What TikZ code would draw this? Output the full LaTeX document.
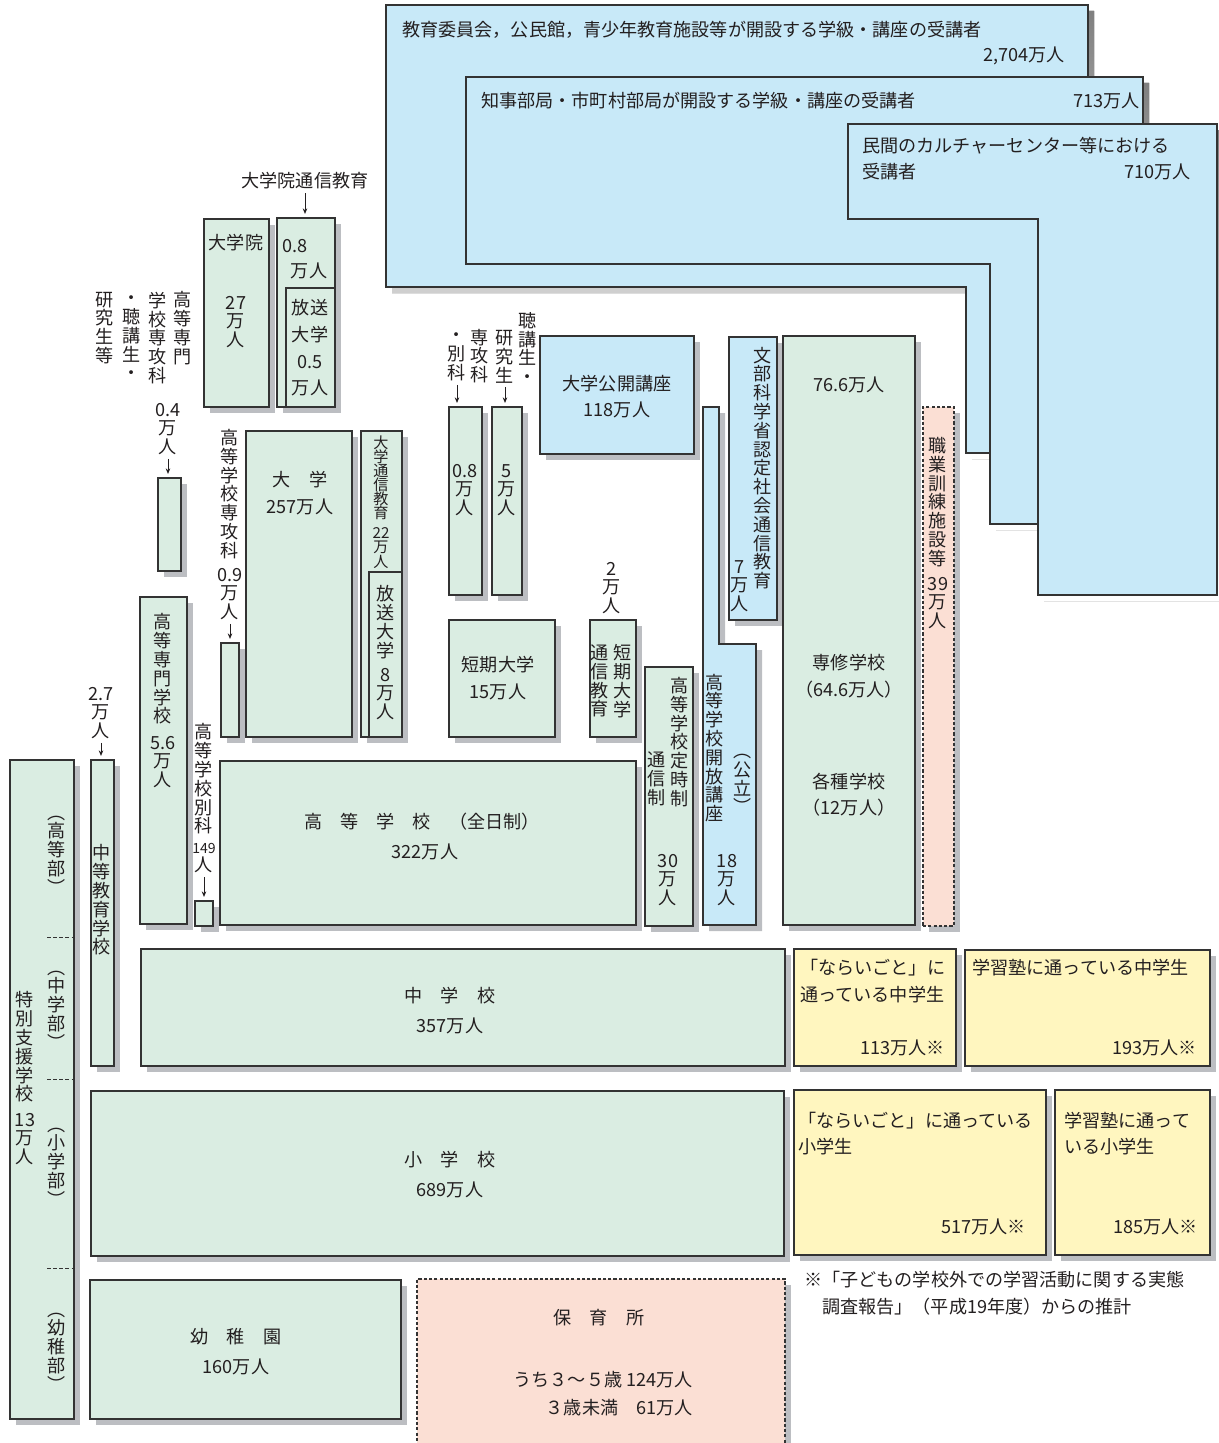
\documentclass[tikz,border=0pt]{standalone}
\usepackage{fontspec}
\newfontfamily\jp{Noto Sans CJK JP}
\usetikzlibrary{positioning, fit, shadows, arrows.meta}

\definecolor{gfill}{RGB}{218,237,226}
\definecolor{bfill}{RGB}{200,233,248}
\definecolor{yfill}{RGB}{255,246,191}
\definecolor{pfill}{RGB}{251,223,212}
\definecolor{shade}{RGB}{188,190,194}
\definecolor{edge}{RGB}{51,51,51}
\definecolor{ink}{RGB}{35,31,32}

\begin{document}
\begin{tikzpicture}[x=0.02cm, y=-0.02cm, line join=miter,
	every node/.style={font=\jp\fontsize{10.3}{10.7}\selectfont, text=ink, inner sep=0pt},
	box/.style={draw=edge, line width=0.6pt, inner sep=0pt,
		drop shadow={shadow xshift=0.12cm, shadow yshift=-0.12cm, fill=shade, opacity=1}},
	gbox/.style={box, fill=gfill},
	bbox/.style={box, fill=bfill},
	ybox/.style={box, fill=yfill},
	pbox/.style={box, fill=pfill, dash pattern=on 1.8pt off 1.2pt},
	inbox/.style={draw=edge, line width=0.6pt, fill=gfill, inner sep=0pt},
	vt/.style={align=center},
	vtwide/.style={align=center, font=\jp\fontsize{10.3}{15.2}\selectfont},
	vtsmall/.style={align=center, font=\jp\fontsize{8.6}{8}\selectfont},
	arr/.style={-{Stealth[length=3.2pt, width=2.6pt]}, line width=0.5pt, draw=ink, shorten <=2pt, shorten >=2pt},
	sep/.style={draw=edge, line width=0.5pt, dash pattern=on 2pt off 1.5pt}
]
	\useasboundingbox (0,0) rectangle (1219,1443);

	% the three sheets at the top right, shadows first
	\begin{scope}[shift={(6,6)}]
		\fill[shade] (386,5) -- (1088,5) -- (1088,453) -- (966,453) -- (966,287) -- (386,287) -- cycle;
		\fill[shade] (466,77) -- (1143,77) -- (1143,524) -- (990,524) -- (990,264) -- (466,264) -- cycle;
		\fill[shade] (848,124) -- (1217,124) -- (1217,595) -- (1038,595) -- (1038,219) -- (848,219) -- cycle;
	\end{scope}
	\filldraw[fill=bfill, draw=edge, line width=0.6pt] (386,5) -- (1088,5) -- (1088,453) -- (966,453) -- (966,287) -- (386,287) -- cycle;
	\filldraw[fill=bfill, draw=edge, line width=0.6pt] (466,77) -- (1143,77) -- (1143,524) -- (990,524) -- (990,264) -- (466,264) -- cycle;
	\filldraw[fill=bfill, draw=edge, line width=0.6pt] (848,124) -- (1217,124) -- (1217,595) -- (1038,595) -- (1038,219) -- (848,219) -- cycle;
	\node[anchor=west] (s1) at (402,30) {教育委員会，公民館，青少年教育施設等が開設する学級・講座の受講者};
	\node[anchor=east] (s1n) at (1065,56) {2,704万人};
	\node[anchor=west] (s2) at (481,101) {知事部局・市町村部局が開設する学級・講座の受講者};
	\node[anchor=east] (s2n) at (1140,101) {713万人};
	\node[anchor=west] (s3) at (862,146) {民間のカルチャーセンター等における};
	\node[anchor=west] (s3b) at (862,172) {受講者};
	\node[anchor=east] (s3n) at (1191,172) {710万人};

	% graduate schools
	\node[gbox, fit={(204,219) (269,407)}] (inA) {};
	\node (inAt) at (236,243) {大学院};
	\node[vt] (inAn) at (236,322) {27\\万\\人};
	\node[gbox, fit={(277,218) (335,407)}] (inT) {};
	\node[inbox, fit={(286,288) (335,407)}] (inH) {};
	\node (inTn) at (295,246) {0.8};
	\node (inTu) at (309,271) {万人};
	\node[vtwide] (inHt) at (310,348) {放送\\大学\\0.5\\万人};
	\node (inTl) at (305,181) {大学院通信教育};

	% kosen advanced course
	\node[vt] (kl1) at (183,328) {高\\等\\専\\門};
	\node[vt] (kl2) at (158,338) {学\\校\\専\\攻\\科};
	\node[vt] (kl3) at (132,338) {・\\聴\\講\\生\\・};
	\node[vt] (kl4) at (105,328) {研\\究\\生\\等};
	\node[vt] (kSn) at (168,429) {0.4\\万\\人};
	\node[gbox, fit={(158,478) (181,571)}] (kS) {};

	% kosen, secondary, special needs
	\node[gbox, fit={(140,597) (187,924)}] (kosen) {};
	\node[vt] (kosent) at (163,669) {高\\等\\専\\門\\学\\校};
	\node[vt] (kosenn) at (163,762) {5.6\\万\\人};
	\node[vt] (chutol) at (101,713) {2.7\\万\\人};
	\node[gbox, fit={(91,760) (114,1066)}] (chuto) {};
	\node[vt] (chutot) at (102,900) {中\\等\\教\\育\\学\\校};
	\node[gbox, fit={(10,760) (74,1419)}] (toku) {};
	\node[vt] (tokut) at (25,1047) {特\\別\\支\\援\\学\\校};
	\node[vt] (tokun) at (25,1139) {13\\万\\人};
	\node[vt] (tokuA) at (57,855) {︵\\高\\等\\部\\︶};
	\node[vt] (tokuB) at (57,1010) {︵\\中\\学\\部\\︶};
	\node[vt] (tokuC) at (57,1167) {︵\\小\\学\\部\\︶};
	\node[vt] (tokuD) at (57,1352) {︵\\幼\\稚\\部\\︶};
	\draw[sep] (47,937) -- (74,937);
	\draw[sep] (47,1079) -- (74,1079);
	\draw[sep] (47,1268) -- (74,1268);

	% university
	\node[vt] (ksl) at (230,494) {高\\等\\学\\校\\専\\攻\\科};
	\node[vt] (ksn) at (230,594) {0.9\\万\\人};
	\node[gbox, fit={(221,643) (239,737)}] (koSenko) {};
	\node[gbox, fit={(246,431) (352,737)}] (dai) {};
	\node (dait) at (300,480) {大　学};
	\node (dain) at (300,507) {257万人};
	\node[gbox, fit={(361,431) (402,737)}] (daiT) {};
	\node[inbox, fit={(369,572) (402,737)}] (daiH) {};
	\node[vtsmall] (daiTt) at (381,478) {大\\学\\通\\信\\教\\育};
	\node[vtsmall] (daiTn) at (381,548) {22\\万\\人};
	\node[vt] (daiHt) at (386,622) {放\\送\\大\\学};
	\node[vt] (daiHn) at (386,694) {8\\万\\人};

	% high school
	\node[vt] (kbl) at (204,779) {高\\等\\学\\校\\別\\科};
	\node[vt] (kbn) at (204,858) {{\fontsize{8}{8}\selectfont 149}\\人};
	\node[gbox, fit={(195,901) (213,926)}] (koBekka) {};
	\node[gbox, fit={(220,761) (636,925)}] (koko) {};
	\node (kokot) at (422,822) {高　等　学　校　（全日制）};
	\node (kokon) at (425,852) {322万人};

	% junior college
	\node[vt] (tl1) at (480,356) {専\\攻\\科};
	\node[vt] (tl2) at (457,357) {・\\別\\科};
	\node[vt] (tl3) at (505,357) {研\\究\\生};
	\node[vt] (tl4) at (528,348) {聴\\講\\生\\・};
	\node[gbox, fit={(449,407) (482,595)}] (tSB) {};
	\node[gbox, fit={(492,407) (522,595)}] (tKK) {};
	\node[vt] (tSBn) at (465,490) {0.8\\万\\人};
	\node[vt] (tKKn) at (507,490) {5\\万\\人};
	\node[gbox, fit={(449,620) (555,737)}] (tan) {};
	\node (tant) at (498,665) {短期大学};
	\node (tann) at (498,692) {15万人};
	\node[vt] (tanTl) at (612,588) {2\\万\\人};
	\node[gbox, fit={(590,620) (636,737)}] (tanT) {};
	\node[vt] (tanT1) at (623,681) {短\\期\\大\\学};
	\node[vt] (tanT2) at (600,681) {通\\信\\教\\育};

	% part-time high school
	\node[gbox, fit={(645,667) (693,926)}] (teiji) {};
	\node[vt] (teiji1) at (680,742) {高\\等\\学\\校\\定\\時\\制};
	\node[vt] (teiji2) at (657,779) {通\\信\\制};
	\node[vt] (teijin) at (668,880) {30\\万\\人};

	% open courses
	\filldraw[bbox] (703,407) -- (719,407) -- (719,644) -- (756,644) -- (756,925) -- (703,925) -- cycle;
	\node[vt] (kaiho1) at (715,748) {高\\等\\学\\校\\開\\放\\講\\座};
	\node[vt] (kaiho2) at (743,784) {︵\\公\\立\\︶};
	\node[vt] (kaihon) at (727,880) {18\\万\\人};
	\node[bbox, fit={(729,337) (777,620)}] (monka) {};
	\node[vt] (monka1) at (763,468) {文\\部\\科\\学\\省\\認\\定\\社\\会\\通\\信\\教\\育};
	\node[vt] (monkan) at (740,586) {7\\万\\人};
	\node[bbox, fit={(540,336) (694,454)}] (kokai) {};
	\node (kokait) at (617,384) {大学公開講座};
	\node (kokain) at (617,410) {118万人};

	% specialized training
	\node[gbox, fit={(783,336) (915,925)}] (senshu) {};
	\node (senshu0) at (849,385) {76.6万人};
	\node (senshu1) at (849,663) {専修学校};
	\node (senshu2) at (849,690) {（64.6万人）};
	\node (senshu3) at (849,782) {各種学校};
	\node (senshu4) at (849,808) {（12万人）};
	\node[pbox, fit={(923,407) (954,926)}] (shoku) {};
	\node[vt] (shokut) at (938,502) {職\\業\\訓\\練\\施\\設\\等};
	\node[vt] (shokun) at (938,603) {39\\万\\人};

	% compulsory schools and cram schools
	\node[gbox, fit={(141,949) (785,1066)}] (chu) {};
	\node (chut) at (450,996) {中　学　校};
	\node (chun) at (450,1026) {357万人};
	\node[ybox, fit={(794,949) (956,1066)}] (naraiC) {};
	\node[anchor=west] (naraiC1) at (800,968) {「ならいごと」に};
	\node[anchor=west] (naraiC2) at (800,995) {通っている中学生};
	\node[anchor=east] (naraiCn) at (945,1048) {113万人※};
	\node[ybox, fit={(965,950) (1210,1066)}] (jukuC) {};
	\node[anchor=west] (jukuC1) at (972,968) {学習塾に通っている中学生};
	\node[anchor=east] (jukuCn) at (1197,1048) {193万人※};
	\node[gbox, fit={(91,1091) (784,1256)}] (sho) {};
	\node (shot) at (450,1160) {小　学　校};
	\node (shon) at (450,1190) {689万人};
	\node[ybox, fit={(794,1090) (1046,1255)}] (naraiS) {};
	\node[anchor=west] (naraiS1) at (798,1121) {「ならいごと」に通っている};
	\node[anchor=west] (naraiS2) at (798,1147) {小学生};
	\node[anchor=east] (naraiSn) at (1026,1227) {517万人※};
	\node[ybox, fit={(1055,1090) (1210,1255)}] (jukuS) {};
	\node[anchor=west] (jukuS1) at (1064,1121) {学習塾に通って};
	\node[anchor=west] (jukuS2) at (1064,1147) {いる小学生};
	\node[anchor=east] (jukuSn) at (1198,1227) {185万人※};
	\node[anchor=west] (note1) at (804,1280) {※「子どもの学校外での学習活動に関する実態};
	\node[anchor=west] (note2) at (822,1307) {調査報告」（平成19年度）からの推計};

	% preschool
	\node[gbox, fit={(90,1280) (401,1419)}] (yochi) {};
	\node (yochit) at (236,1337) {幼　稚　園};
	\node (yochin) at (236,1367) {160万人};
	\node[pbox, fit={(417,1279) (785,1470)}] (hoiku) {};
	\node (hoikut) at (599,1318) {保　育　所};
	\node[anchor=east] (hoiku1) at (693,1380) {うち３～５歳 124万人};
	\node[anchor=east] (hoiku2) at (693,1408) {３歳未満　61万人};

	% arrows from the labels
	\draw[arr] (inTl) -- (inTl |- inT.north);
	\draw[arr] (kSn) -- (kSn |- kS.north);
	\draw[arr] (chutol) -- (chutol |- chuto.north);
	\draw[arr] (ksn) -- (ksn |- koSenko.north);
	\draw[arr] (kbn) -- (kbn |- koBekka.north);
	\draw[arr] (tl2) -- (tl2 |- tSB.north);
	\draw[arr] (tl3) -- (tl3 |- tKK.north);
\end{tikzpicture}
\end{document}
